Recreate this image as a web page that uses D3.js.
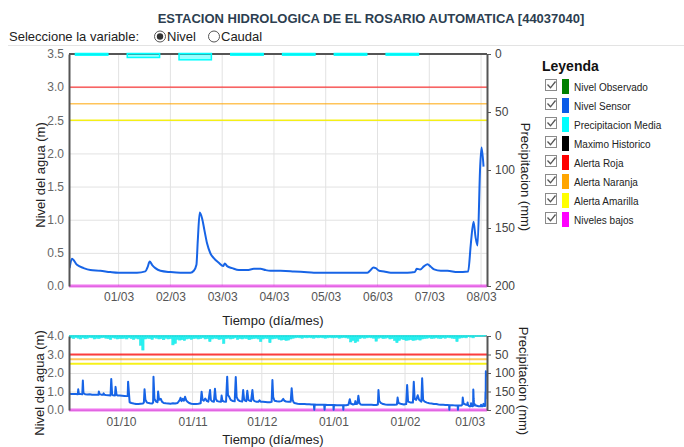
<!DOCTYPE html>
<html>
<head>
<meta charset="utf-8">
<script src="https://cdn.jsdelivr.net/npm/d3@7/dist/d3.min.js"></script>
<style>
  body { margin: 0; background: #fff; }
  svg { display: block; font-family: "Liberation Sans", Arial, sans-serif; }
</style>
</head>
<body>
<svg id="chart" width="684" height="447"></svg>
<script>
// ---------- Datos ----------
const titulo = "ESTACION HIDROLOGICA DE EL ROSARIO AUTOMATICA [44037040]";

// Nivel sensor, última semana (fecha, metros)
const nivelSemana = [
  ["28/02/2019 01:16",0.27],["28/02/2019 02:21",0.41],["28/02/2019 04:41",0.32],["28/02/2019 07:46",0.27],
  ["28/02/2019 10:52",0.24],["28/02/2019 15:30",0.23],["28/02/2019 20:08",0.21],
  ["01/03/2019 00:00",0.20],["01/03/2019 03:53",0.20],["01/03/2019 08:31",0.20],["01/03/2019 12:23",0.22],
  ["01/03/2019 13:29",0.29],["01/03/2019 14:24",0.37],["01/03/2019 15:29",0.32],["01/03/2019 17:02",0.27],
  ["01/03/2019 19:22",0.23],
  ["02/03/2019 00:00",0.21],["02/03/2019 04:38",0.20],["02/03/2019 09:17",0.20],["02/03/2019 10:50",0.23],
  ["02/03/2019 12:04",0.32],["02/03/2019 12:42",0.69],["02/03/2019 13:36",1.11],["02/03/2019 14:42",1.02],
  ["02/03/2019 15:47",0.84],["02/03/2019 17:01",0.64],["02/03/2019 18:34",0.49],["02/03/2019 20:07",0.42],
  ["02/03/2019 22:26",0.35],
  ["03/03/2019 00:27",0.30],["03/03/2019 01:13",0.34],["03/03/2019 02:18",0.30],["03/03/2019 04:38",0.27],
  ["03/03/2019 07:44",0.24],["03/03/2019 11:35",0.24],["03/03/2019 14:41",0.26],["03/03/2019 17:47",0.26],
  ["03/03/2019 20:07",0.24],["03/03/2019 22:25",0.23],
  ["04/03/2019 03:04",0.23],["04/03/2019 09:16",0.22],["04/03/2019 13:54",0.21],["04/03/2019 18:32",0.20],
  ["05/03/2019 00:43",0.20],["05/03/2019 06:55",0.20],["05/03/2019 13:06",0.20],["05/03/2019 19:18",0.20],
  ["05/03/2019 20:50",0.24],["05/03/2019 22:05",0.28],["05/03/2019 23:10",0.27],
  ["06/03/2019 00:43",0.23],["06/03/2019 03:01",0.22],["06/03/2019 06:07",0.20],["06/03/2019 09:13",0.20],
  ["06/03/2019 13:52",0.20],["06/03/2019 17:17",0.21],["06/03/2019 18:12",0.26],["06/03/2019 19:45",0.25],
  ["06/03/2019 21:36",0.30],["06/03/2019 23:09",0.33],
  ["07/03/2019 00:42",0.29],["07/03/2019 02:14",0.25],["07/03/2019 05:20",0.23],["07/03/2019 08:26",0.23],
  ["07/03/2019 13:05",0.21],["07/03/2019 18:01",0.22],["07/03/2019 19:16",0.64],["07/03/2019 20:30",0.97],
  ["07/03/2019 21:26",0.74],["07/03/2019 22:22",0.61],["07/03/2019 23:35",1.80],
  ["08/03/2019 00:14",2.09],["08/03/2019 01:09",1.80]
];

// Precipitación media diaria, última semana (mm)
const diasSemana = ["28/02/2019","01/03/2019","02/03/2019","03/03/2019","04/03/2019","05/03/2019","06/03/2019"];
const precipSemana = [1, 3, 5, 1, 1, 1, 1];

// Nivel sensor, seis meses anteriores (fecha, metros)
const nivelHistorico = [
  ["08/09/2018 12:00",0.88],["09/09/2018 12:00",0.87],["10/09/2018 12:00",0.86],["11/09/2018 12:00",0.86],
  ["12/09/2018 08:00",0.85],["12/09/2018 12:00",1.12],["12/09/2018 18:00",0.88],["13/09/2018 12:00",0.86],
  ["14/09/2018 06:00",0.85],["14/09/2018 12:00",1.59],["14/09/2018 18:00",0.92],["15/09/2018 12:00",0.85],
  ["16/09/2018 12:00",0.84],["17/09/2018 12:00",0.85],["18/09/2018 12:00",0.83],["19/09/2018 12:00",0.83],
  ["20/09/2018 12:00",0.82],["21/09/2018 06:00",0.82],["21/09/2018 10:00",1.00],["21/09/2018 18:00",0.86],
  ["22/09/2018 12:00",0.83],["23/09/2018 06:00",0.82],["23/09/2018 12:00",0.90],["23/09/2018 20:00",0.82],
  ["24/09/2018 12:00",0.81],["25/09/2018 12:00",0.80],["26/09/2018 12:00",0.79],["26/09/2018 19:00",1.68],
  ["27/09/2018 04:00",0.86],["27/09/2018 12:00",0.80],["28/09/2018 10:00",0.79],["28/09/2018 16:00",1.25],
  ["29/09/2018 02:00",0.82],["29/09/2018 12:00",0.79],["30/09/2018 12:00",0.78],
  ["01/10/2018 12:00",0.77],["02/10/2018 12:00",0.76],["03/10/2018 12:00",0.75],["03/10/2018 22:00",0.76],
  ["04/10/2018 02:00",1.53],["04/10/2018 12:00",0.85],["04/10/2018 18:00",0.42],["05/10/2018 12:00",0.38],
  ["06/10/2018 12:00",0.35],["07/10/2018 12:00",0.33],["08/10/2018 12:00",0.33],["09/10/2018 12:00",0.34],
  ["10/10/2018 12:00",0.35],["10/10/2018 22:00",0.40],["11/10/2018 05:00",1.12],["11/10/2018 14:00",0.55],
  ["12/10/2018 06:00",0.40],["13/10/2018 12:00",0.36],["14/10/2018 12:00",0.35],["14/10/2018 22:00",0.40],
  ["15/10/2018 02:00",1.80],["15/10/2018 12:00",0.60],["16/10/2018 06:00",0.45],["16/10/2018 20:00",0.42],
  ["17/10/2018 02:00",1.00],["17/10/2018 12:00",0.55],["18/10/2018 06:00",0.60],["18/10/2018 18:00",0.45],
  ["19/10/2018 12:00",0.38],["20/10/2018 12:00",0.36],["21/10/2018 12:00",0.35],["22/10/2018 12:00",0.34],
  ["23/10/2018 12:00",0.36],["24/10/2018 12:00",0.35],["25/10/2018 12:00",0.38],["26/10/2018 12:00",0.55],
  ["26/10/2018 19:00",0.66],["27/10/2018 06:00",0.48],["27/10/2018 18:00",0.60],["28/10/2018 06:00",0.50],
  ["28/10/2018 18:00",0.72],["29/10/2018 06:00",0.52],["29/10/2018 18:00",0.45],["30/10/2018 12:00",0.38],
  ["31/10/2018 12:00",0.34],
  ["01/11/2018 12:00",0.33],["02/11/2018 12:00",0.33],["03/11/2018 12:00",0.34],["04/11/2018 12:00",0.36],
  ["04/11/2018 22:00",0.99],["05/11/2018 08:00",0.55],["05/11/2018 20:00",0.50],["06/11/2018 12:00",0.62],
  ["07/11/2018 06:00",0.48],["07/11/2018 20:00",0.45],["08/11/2018 14:00",1.08],["08/11/2018 22:00",0.55],
  ["09/11/2018 12:00",0.47],["10/11/2018 06:00",0.45],["10/11/2018 17:00",1.15],["11/11/2018 02:00",0.60],
  ["11/11/2018 16:00",0.48],["12/11/2018 12:00",0.46],["13/11/2018 08:00",0.45],["13/11/2018 14:00",0.78],
  ["13/11/2018 22:00",0.50],["14/11/2018 12:00",0.46],["15/11/2018 12:00",0.45],["16/11/2018 00:00",1.80],
  ["16/11/2018 08:00",0.80],["16/11/2018 20:00",0.72],["17/11/2018 12:00",0.55],["18/11/2018 12:00",0.48],
  ["19/11/2018 06:00",0.47],["19/11/2018 17:00",1.78],["20/11/2018 02:00",0.70],["20/11/2018 16:00",0.55],
  ["21/11/2018 12:00",0.48],["22/11/2018 12:00",0.46],["22/11/2018 22:00",1.08],["23/11/2018 08:00",0.55],
  ["23/11/2018 20:00",0.50],["24/11/2018 06:00",0.48],["24/11/2018 17:00",1.04],["25/11/2018 04:00",0.55],
  ["25/11/2018 18:00",0.50],["26/11/2018 08:00",0.48],["26/11/2018 22:00",1.08],["27/11/2018 08:00",0.55],
  ["27/11/2018 20:00",0.48],["28/11/2018 12:00",0.45],["29/11/2018 12:00",0.44],["30/11/2018 00:00",0.52],
  ["30/11/2018 12:00",0.45],
  ["01/12/2018 12:00",0.44],["02/12/2018 12:00",0.43],["03/12/2018 12:00",0.42],["04/12/2018 12:00",0.42],
  ["05/12/2018 06:00",0.44],["05/12/2018 14:00",1.62],["05/12/2018 22:00",0.70],["06/12/2018 12:00",0.50],
  ["07/12/2018 12:00",0.47],["08/12/2018 12:00",0.46],["09/12/2018 12:00",0.48],["10/12/2018 07:00",0.60],
  ["10/12/2018 18:00",0.50],["11/12/2018 12:00",0.46],["12/12/2018 12:00",0.45],["13/12/2018 12:00",0.45],
  ["13/12/2018 22:00",1.17],["14/12/2018 08:00",0.55],["14/12/2018 20:00",0.40],["15/12/2018 12:00",0.36],
  ["16/12/2018 12:00",0.34],["17/12/2018 12:00",0.33],["18/12/2018 12:00",0.32],["19/12/2018 12:00",0.32],
  ["20/12/2018 12:00",0.31],["21/12/2018 12:00",0.31],["22/12/2018 12:00",0.30],["23/12/2018 12:00",0.30],
  ["23/12/2018 17:00",0.02],["23/12/2018 22:00",0.30],["24/12/2018 12:00",0.29],["25/12/2018 12:00",0.29],
  ["26/12/2018 12:00",0.28],["27/12/2018 12:00",0.28],["28/12/2018 00:00",0.28],["28/12/2018 04:00",0.02],
  ["28/12/2018 08:00",0.28],["29/12/2018 12:00",0.27],["30/12/2018 12:00",0.27],["31/12/2018 12:00",0.27],
  ["01/01/2019 00:00",0.27],["01/01/2019 02:00",0.02],["01/01/2019 06:00",0.27],["02/01/2019 12:00",0.26],
  ["03/01/2019 12:00",0.26],["04/01/2019 12:00",0.26],["05/01/2019 04:00",0.26],["05/01/2019 07:00",0.02],
  ["05/01/2019 10:00",0.26],["06/01/2019 12:00",0.26],["07/01/2019 12:00",0.28],["08/01/2019 02:00",0.58],
  ["08/01/2019 12:00",0.35],["09/01/2019 12:00",0.30],["10/01/2019 06:00",0.32],["10/01/2019 12:00",0.48],
  ["10/01/2019 20:00",0.33],["11/01/2019 10:00",0.34],["11/01/2019 19:00",0.77],["12/01/2019 06:00",0.38],
  ["12/01/2019 18:00",0.30],["13/01/2019 12:00",0.29],["14/01/2019 12:00",0.29],["15/01/2019 12:00",0.28],
  ["16/01/2019 12:00",0.28],["17/01/2019 12:00",0.28],["18/01/2019 12:00",0.27],["19/01/2019 12:00",0.27],
  ["20/01/2019 06:00",0.30],["20/01/2019 12:00",1.08],["20/01/2019 20:00",0.50],["21/01/2019 12:00",0.38],
  ["22/01/2019 12:00",0.32],["23/01/2019 12:00",0.30],["24/01/2019 12:00",0.29],["25/01/2019 12:00",0.29],
  ["26/01/2019 12:00",0.28],["27/01/2019 12:00",0.28],["28/01/2019 12:00",0.30],["28/01/2019 19:00",0.67],
  ["29/01/2019 04:00",0.38],["30/01/2019 12:00",0.32],["31/01/2019 12:00",0.30],
  ["01/02/2019 12:00",0.32],["01/02/2019 22:00",1.35],["02/02/2019 08:00",0.45],["03/02/2019 12:00",0.40],
  ["04/02/2019 10:00",0.40],["04/02/2019 19:00",1.53],["05/02/2019 04:00",0.60],["05/02/2019 20:00",0.55],
  ["06/02/2019 12:00",0.80],["07/02/2019 02:00",0.55],["08/02/2019 02:00",0.45],["08/02/2019 10:00",1.71],
  ["08/02/2019 20:00",0.55],["09/02/2019 12:00",0.45],["10/02/2019 12:00",0.40],["11/02/2019 12:00",0.37],
  ["12/02/2019 12:00",0.35],["13/02/2019 12:00",0.33],["14/02/2019 12:00",0.32],["15/02/2019 12:00",0.30],
  ["16/02/2019 12:00",0.29],["17/02/2019 12:00",0.28],["18/02/2019 12:00",0.27],["19/02/2019 12:00",0.27],
  ["20/02/2019 02:00",0.26],["20/02/2019 05:00",0.02],["20/02/2019 08:00",0.26],["21/02/2019 12:00",0.26],
  ["22/02/2019 12:00",0.25],["23/02/2019 19:00",0.25],["23/02/2019 22:00",0.02],["24/02/2019 02:00",0.25],
  ["25/02/2019 12:00",0.25],["25/02/2019 20:00",0.30],["26/02/2019 00:00",0.67],["26/02/2019 08:00",0.35],
  ["27/02/2019 12:00",0.28]
];

// Precipitación media diaria desde el 08/09/2018 (mm)
const inicioPrecipHistorica = "08/09/2018";
const precipHistorica = [
  // septiembre (08-30)
  6,5,7,4,6,8,5,7,6,4,5,8,6,7,5,4,6,7,9,5,6,8,7,
  // octubre
  7,6,8,5,7,9,6,8,25,38,8,6,7,9,5,6,8,7,10,6,8,7,24,20,9,11,10,12,8,7,9,
  // noviembre
  7,6,8,7,5,8,7,15,8,6,7,9,8,20,7,6,8,7,5,9,7,8,6,7,10,8,7,6,8,15,
  // diciembre
  8,6,7,18,8,7,6,9,11,10,12,11,8,6,5,4,5,6,4,5,4,5,6,4,5,4,5,6,5,4,5,
  // enero
  5,4,6,5,4,5,6,16,12,18,14,7,5,6,5,4,5,6,14,6,5,7,6,5,8,7,12,18,12,8,10,
  // febrero
  12,11,10,12,11,9,11,8,7,6,5,7,6,5,6,7,5,6,4,5,6,7,15,6,5,4,5,1,
  // marzo (01-07)
  3,5,1,1,1,1,0
];

// Umbrales de nivel (m): roja, naranja, amarilla, niveles bajos
const umbrales = [3.0, 2.75, 2.5, 0.0];

// Marcas de los ejes
const ticksNivelSemana = [0, 0.5, 1.0, 1.5, 2.0, 2.5, 3.0, 3.5];
const ticksNivelHistorico = [0, 1, 2, 3, 4];
const ticksPrecip = [0, 50, 100, 150, 200];
const ticksDias = ["01/03/2019","02/03/2019","03/03/2019","04/03/2019","05/03/2019","06/03/2019","07/03/2019","08/03/2019"];
const ticksMeses = ["01/10/2018","01/11/2018","01/12/2018","01/01/2019","01/02/2019","01/03/2019"];

// Leyenda
const leyenda = ["Nivel Observado","Nivel Sensor","Precipitacion Media","Maximo Historico",
                 "Alerta Roja","Alerta Naranja","Alerta Amarilla","Niveles bajos"];

// ---------- Estilos ----------
const coloresLeyenda = ["#008000","#0a5ce8","#00ffff","#000000","#ff0000","#ffa500","#ffff00","#ff00ff"];
const COLOR_NIVEL = "#1764e6";
const estiloUmbral = [
  {color: "#ff0000", op: 0.75},
  {color: "#ffa500", op: 0.65},
  {color: "#f5f000", op: 0.9},
  {color: "#e000e0", op: 0.55}
];

const parseFecha = d3.timeParse("%d/%m/%Y %H:%M");
const parseDia = d3.timeParse("%d/%m/%Y");
const fmtDia = d3.timeFormat("%d/%m");

const svg = d3.select("#chart");
const FONT = "'Liberation Sans', Arial, sans-serif";

// ---------- Encabezado ----------
svg.append("text")
  .attr("x", 371).attr("y", 23)
  .attr("text-anchor", "middle")
  .attr("font-size", 13).attr("font-weight", "bold")
  .attr("fill", "#2c3e50")
  .text(titulo);

svg.append("text")
  .attr("x", 9).attr("y", 41)
  .attr("font-size", 13).attr("fill", "#222")
  .text("Seleccione la variable:");

function radio(cx, checked, label) {
  svg.append("circle").attr("cx", cx).attr("cy", 36.5).attr("r", 5.5)
    .attr("fill", "#fff").attr("stroke", "#555").attr("stroke-width", 1);
  if (checked) {
    svg.append("circle").attr("cx", cx).attr("cy", 36.5).attr("r", 3.2).attr("fill", "#333");
  }
  svg.append("text").attr("x", cx + 7).attr("y", 41)
    .attr("font-size", 13).attr("fill", "#222").text(label);
}
radio(160, true, "Nivel");
radio(214, false, "Caudal");

svg.append("line")
  .attr("x1", 8).attr("x2", 684).attr("y1", 45.5).attr("y2", 45.5)
  .attr("stroke", "#e3e3e3");

// ---------- Paneles ----------
const LEFT = 69, RIGHT = 487;

function panel(cfg) {
  const g = svg.append("g");
  const x = d3.scaleTime().domain(cfg.dominioX).range([LEFT, RIGHT]);
  const yL = d3.scaleLinear().domain(cfg.dominioNivel).range([cfg.bottom, cfg.top]);
  const yR = d3.scaleLinear().domain([0, 200]).range([cfg.top, cfg.bottom]);

  const clipId = "clip" + cfg.id;
  svg.append("clipPath").attr("id", clipId).append("rect")
    .attr("x", LEFT).attr("y", cfg.top - 2)
    .attr("width", RIGHT - LEFT).attr("height", cfg.bottom - cfg.top + 4);

  // rejilla
  g.append("g").selectAll("line").data(cfg.ticksNivel).join("line")
    .attr("x1", LEFT).attr("x2", RIGHT)
    .attr("y1", d => yL(d) + 0.5).attr("y2", d => yL(d) + 0.5)
    .attr("stroke", "#e2e2e2").attr("stroke-width", 1);
  g.append("g").selectAll("line").data(cfg.ticksX).join("line")
    .attr("x1", d => x(d)).attr("x2", d => x(d))
    .attr("y1", cfg.top).attr("y2", cfg.bottom)
    .attr("stroke", "#e2e2e2").attr("stroke-width", 1);

  const plot = g.append("g").attr("clip-path", `url(#${clipId})`);

  // umbrales
  plot.append("g").selectAll("line").data(umbrales).join("line")
    .attr("x1", LEFT).attr("x2", RIGHT)
    .attr("y1", d => yL(d)).attr("y2", d => yL(d))
    .attr("stroke", (d, i) => estiloUmbral[i].color)
    .attr("stroke-opacity", (d, i) => estiloUmbral[i].op)
    .attr("stroke-width", (d, i) => i === 3 ? 3 : cfg.umbralW);

  // nivel del sensor
  plot.append("path")
    .datum(cfg.serie)
    .attr("fill", "none")
    .attr("stroke", COLOR_NIVEL)
    .attr("stroke-width", 2)
    .attr("stroke-linejoin", "round")
    .attr("d", d3.line().x(d => x(d.t)).y(d => yL(d.v)).curve(cfg.curva));

  // marco superior
  g.append("line").attr("x1", LEFT).attr("x2", RIGHT)
    .attr("y1", cfg.top).attr("y2", cfg.top)
    .attr("stroke", cfg.marco).attr("stroke-width", 2);

  // precipitación (barras colgantes desde el eje derecho invertido)
  g.append("g").attr("clip-path", `url(#${clipId})`)
    .selectAll("rect").data(cfg.precip).join("rect")
    .attr("x", d => x(d.x0))
    .attr("width", d => Math.max(0, x(d.x1) - x(d.x0)))
    .attr("y", yR(0) - 0.5)
    .attr("height", d => yR(d.mm) - yR(0) + 0.5)
    .attr("fill", cfg.precipFill)
    .attr("stroke", cfg.precipStroke)
    .attr("stroke-width", cfg.precipStrokeW);

  // eje izquierdo
  const axL = g.append("g").attr("transform", `translate(${LEFT},0)`)
    .call(d3.axisLeft(yL).tickValues(cfg.ticksNivel).tickSize(0).tickPadding(5)
      .tickFormat(d3.format(".1f")));
  axL.select(".domain").attr("stroke", "#555").attr("stroke-width", 2);
  axL.selectAll("text").attr("font-size", 12).attr("fill", "#666").attr("font-family", FONT);

  // eje derecho
  const axR = g.append("g").attr("transform", `translate(${RIGHT},0)`)
    .call(d3.axisRight(yR).tickValues(ticksPrecip).tickSize(4).tickPadding(4).tickSizeOuter(0));
  axR.select(".domain").attr("stroke", "#555").attr("stroke-width", 2);
  axR.selectAll(".tick line").attr("stroke", "#555");
  axR.selectAll("text").attr("font-size", 12).attr("fill", "#444").attr("font-family", FONT);

  // eje inferior
  const axB = g.append("g").attr("transform", `translate(0,${cfg.bottom})`)
    .call(d3.axisBottom(x).tickValues(cfg.ticksX).tickSize(0).tickPadding(cfg.padX).tickFormat(fmtDia));
  axB.select(".domain").remove();
  axB.selectAll("text").attr("font-size", 12).attr("fill", "#555").attr("font-family", FONT);

  // títulos de ejes
  svg.append("text")
    .attr("transform", `translate(${cfg.lblIzq[0]},${cfg.lblIzq[1]}) rotate(-90)`)
    .attr("text-anchor", "middle").attr("dy", "0.35em")
    .attr("font-size", 13).attr("fill", "#222")
    .text("Nivel del agua (m)");
  svg.append("text")
    .attr("transform", `translate(${cfg.lblDer[0]},${cfg.lblDer[1]}) rotate(90)`)
    .attr("text-anchor", "middle").attr("dy", "0.35em")
    .attr("font-size", 13).attr("fill", "#222")
    .text("Precipitacion (mm)");
  svg.append("text")
    .attr("x", 273).attr("y", cfg.lblX)
    .attr("text-anchor", "middle")
    .attr("font-size", 13).attr("fill", "#222")
    .text("Tiempo (día/mes)");
}

const serieSemana = nivelSemana.map(([f, v]) => ({t: parseFecha(f), v}));
const serieHistorica = nivelHistorico.concat(nivelSemana).map(([f, v]) => ({t: parseFecha(f), v}));

const barrasSemana = diasSemana.map((d, i) => {
  const dia = parseDia(d);
  return {x0: d3.timeHour.offset(dia, 4), x1: d3.timeHour.offset(dia, 19), mm: precipSemana[i]};
});
const inicioHist = parseDia(inicioPrecipHistorica);
const barrasHistoricas = precipHistorica.map((mm, i) => {
  const dia = d3.timeDay.offset(inicioHist, i);
  return {x0: dia, x1: d3.timeDay.offset(dia, 1), mm};
});

panel({
  id: "semana",
  top: 54, bottom: 286,
  dominioX: [parseFecha("28/02/2019 01:00"), parseFecha("08/03/2019 02:45")],
  dominioNivel: [0, 3.5],
  ticksNivel: ticksNivelSemana,
  ticksX: ticksDias.map(parseDia),
  serie: serieSemana,
  precip: barrasSemana,
  precipFill: "rgba(0,255,255,0.4)",
  precipStroke: "#00ffff",
  precipStrokeW: 1.5,
  umbralW: 1.4,
  curva: d3.curveMonotoneX,
  marco: "#555",
  padX: 6,
  lblIzq: [40, 175],
  lblDer: [526, 177],
  lblX: 325
});

panel({
  id: "historico",
  top: 336, bottom: 410,
  dominioX: [parseFecha("08/09/2018 12:00"), parseFecha("08/03/2019 12:00")],
  dominioNivel: [0, 4],
  ticksNivel: ticksNivelHistorico,
  ticksX: ticksMeses.map(parseDia),
  serie: serieHistorica,
  precip: barrasHistoricas,
  precipFill: "rgba(0,240,240,0.85)",
  precipStroke: "#2ee8e8",
  precipStrokeW: 0.6,
  umbralW: 2,
  curva: d3.curveLinear,
  marco: "#999",
  padX: 7,
  lblIzq: [39, 383],
  lblDer: [524, 381],
  lblX: 444
});

// ---------- Leyenda ----------
const leg = svg.append("g");
leg.append("text")
  .attr("x", 542).attr("y", 71)
  .attr("font-size", 14).attr("font-weight", "bold").attr("fill", "#111")
  .text("Leyenda");

const item = leg.selectAll("g.item").data(leyenda).join("g")
  .attr("class", "item")
  .attr("transform", (d, i) => `translate(0,${87 + i * 19})`);
item.append("rect")
  .attr("x", 545.5).attr("y", -7.5).attr("width", 11).attr("height", 11)
  .attr("fill", "#fdfdfd").attr("stroke", "#8a8a8a").attr("stroke-width", 1);
item.append("path")
  .attr("d", "M547.5,-2.5 L550.5,0.8 L555.5,-5.5")
  .attr("fill", "none").attr("stroke", "#555").attr("stroke-width", 1.3);
item.append("rect")
  .attr("x", 562).attr("y", -8).attr("width", 7).attr("height", 15)
  .attr("fill", (d, i) => coloresLeyenda[i]);
item.append("text")
  .attr("x", 574).attr("y", 3.5)
  .attr("font-size", 10).attr("fill", "#222")
  .text(d => d);
</script>
</body>
</html>
